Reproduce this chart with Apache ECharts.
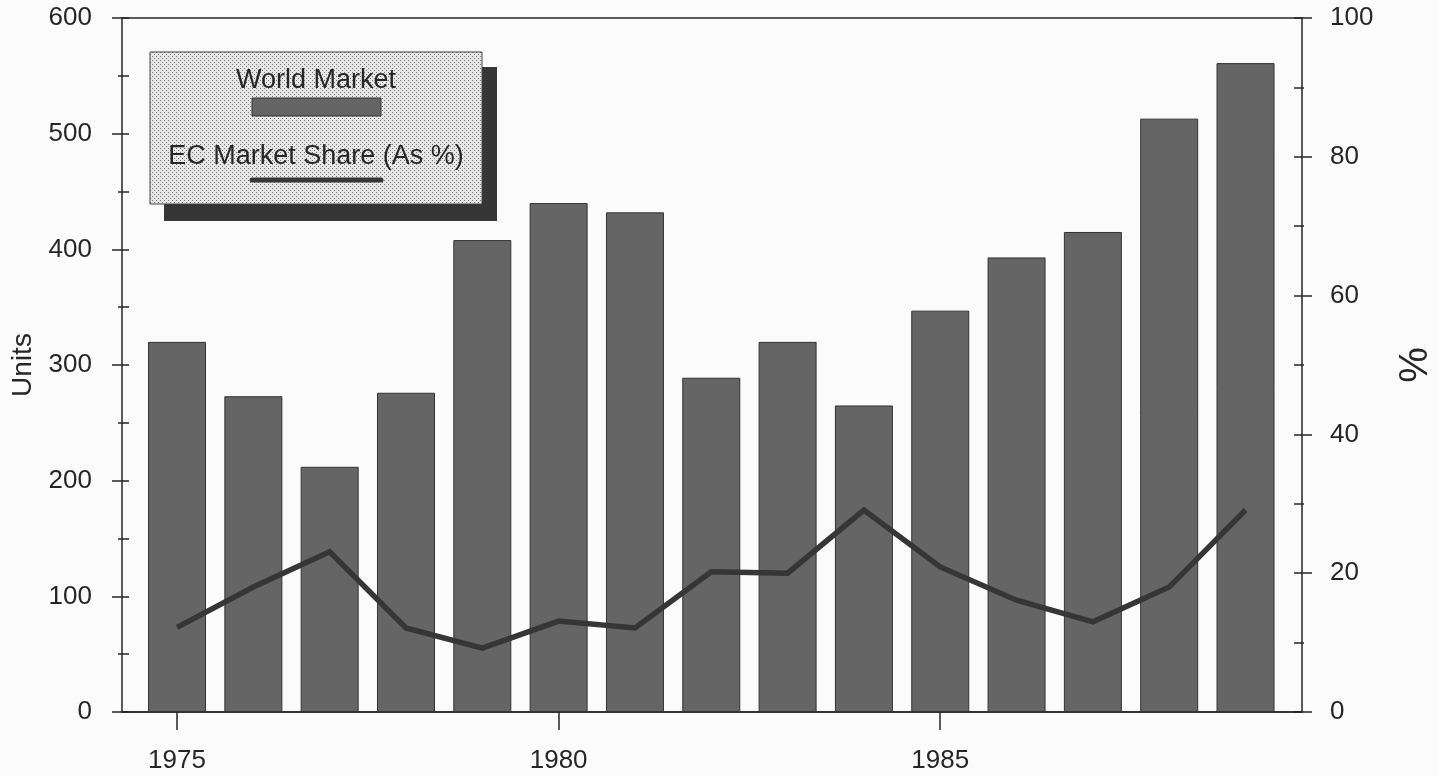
<!DOCTYPE html>
<html><head><meta charset="utf-8">
<script src="https://cdn.jsdelivr.net/npm/echarts@6/dist/echarts.min.js"></script>
<style>html,body{margin:0;padding:0;background:#fbfbfb}#c{width:1439px;height:776px}</style>
</head><body><div id="c"></div>
<script>
const years = [1975,1976,1977,1978,1979,1980,1981,1982,1983,1984,1985,1986,1987,1988,1989];
const worldMarket = [320,273,212,276,408,440,432,289,320,265,347,393,415,513,561];
const ecShare = [12.2,18,23.1,12.1,9.2,13.1,12.1,20.2,20,29.1,20.9,16.1,13,18,29.1];
const yearLabels = [1975,1980,1985];
const seriesNames = ['World Market','EC Market Share (As %)'];
const axisNames = ['Units','%'];

const FONT = "'Liberation Sans', Arial, Helvetica, sans-serif";
const INK = '#262626';
const BAR = '#656565';

function dotPattern(){
  const c = document.createElement('canvas'); c.width = 4; c.height = 4;
  const g = c.getContext('2d');
  g.fillStyle = '#e6e6e6'; g.fillRect(0,0,4,4);
  g.fillStyle = '#777777'; g.fillRect(0,0,1,1); g.fillRect(2,2,1,1);
  return {image: c, repeat: 'repeat'};
}

const chart = echarts.init(document.getElementById('c'), null, {renderer:'canvas'});
const barData = years.map((y,i)=>[y, worldMarket[i]]);
const lineData = years.map((y,i)=>[y, ecShare[i]]);

function yAx(pos, max, interval, name){
  const left = pos === 'left';
  return {
    type:'value', position:pos, min:0, max:max, interval:interval,
    offset: left ? -7 : -8,
    name: name, nameLocation:'middle', nameRotate:90,
    nameGap: left ? 91 : 102,
    nameTextStyle:{fontFamily:FONT, fontSize: left?28:40, color:INK},
    axisLine:{show:false},
    axisTick:{show:true, inside:false, length: left?17:18, lineStyle:{color:INK, width:1.5}},
    minorTick:{show:true, splitNumber:2, length: left?11:10, lineStyle:{color:INK, width:1.5}},
    axisLabel:{show:true, margin: left?37:36, fontFamily:FONT, fontSize:26, color:INK},
    splitLine:{show:false}
  };
}

const option = {
  backgroundColor:'#fbfbfb',
  animation:false,
  grid:{left:122, right:137, top:18, bottom:64, containLabel:false, outerBoundsMode:'none',
    show:true, borderColor:INK, borderWidth:1.5, backgroundColor:'transparent'},
  xAxis:{
    type:'value', min:1974.279, max:1989.74,
    axisLine:{show:true, onZero:false, lineStyle:{color:INK, width:1.5}},
    axisTick:{show:true, customValues:yearLabels, length:18, lineStyle:{color:INK, width:1.5}},
    axisLabel:{show:true, customValues:yearLabels, margin:36, fontFamily:FONT, fontSize:26, color:INK,
      formatter: v => String(v)},
    splitLine:{show:false}
  },
  yAxis:[
    yAx('left', 600, 100, axisNames[0]),
    yAx('right', 100, 20, axisNames[1])
  ],
  series:[
    {name:seriesNames[0], type:'bar', xAxisIndex:0, yAxisIndex:0, data:barData, barWidth:58,
      itemStyle:{color:BAR, borderColor:'#333', borderWidth:1}},
    {name:seriesNames[1], type:'line', xAxisIndex:0, yAxisIndex:1, data:lineData, showSymbol:false, symbol:'none',
      lineStyle:{color:'#363636', width:5.5, join:'miter'}, z:5}
  ],
  graphic:[
    {type:'rect', shape:{x:164, y:67, width:333, height:154}, style:{fill:'#363636'}, z:10},
    {type:'rect', shape:{x:150, y:52, width:332, height:152}, style:{fill:dotPattern(), stroke:'#444', lineWidth:1}, z:11},
    {type:'text', x:316, y:81, style:{text:seriesNames[0], fontFamily:FONT, fontSize:27, fill:INK, align:'center', verticalAlign:'middle'}, z:12},
    {type:'rect', shape:{x:252, y:98, width:129, height:18}, style:{fill:BAR, stroke:'#333', lineWidth:1}, z:12},
    {type:'text', x:316, y:157, style:{text:seriesNames[1], fontFamily:FONT, fontSize:27, fill:INK, align:'center', verticalAlign:'middle'}, z:12},
    {type:'line', shape:{x1:252, y1:180, x2:381, y2:180}, style:{stroke:'#363636', lineWidth:5, lineCap:'round'}, z:12}
  ]
};
chart.setOption(option);
</script></body></html>
